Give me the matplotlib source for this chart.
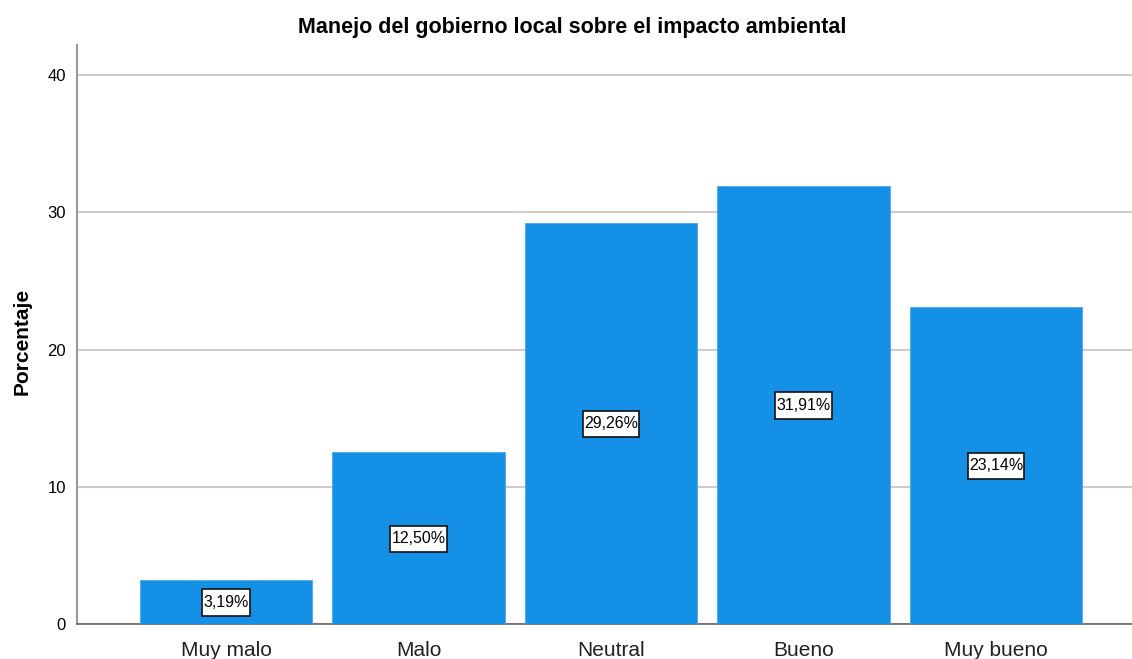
import matplotlib
matplotlib.use("Agg")
import matplotlib.pyplot as plt
from matplotlib.path import Path

categories = ["Muy malo", "Malo", "Neutral", "Bueno", "Muy bueno"]
values = [3.19, 12.50, 29.26, 31.91, 23.14]
labels = ["3,19%", "12,50%", "29,26%", "31,91%", "23,14%"]
yticks = [0, 10, 20, 30, 40]

plt.rcParams['font.family'] = ['Liberation Sans', 'DejaVu Sans']


def label_box(x0, y0, width, height, mutation_size):
    padx = 0.07 * mutation_size
    pady = 0.36 * mutation_size
    xa, ya = x0 - padx, y0 - pady * 1.1
    xb, yb = x0 + width + padx, y0 + height + pady * 0.9
    return Path([(xa, ya), (xb, ya), (xb, yb), (xa, yb), (xa, ya)], closed=True)


fig = plt.figure(figsize=(11.32, 6.59), dpi=100)
ax = fig.add_axes([77/1132, 35/659, 1 - 77/1132, (624-45)/659])

x = list(range(len(categories)))
ax.bar(x, values, width=0.896, color="#1490E6", edgecolor="#4aa8ee", linewidth=0.6, zorder=3)
for xi, v, lab in zip(x, values, labels):
    ax.text(xi, v/2, lab, ha="center", va="center", fontsize=11.5, zorder=4,
            bbox=dict(boxstyle=label_box, facecolor="white", edgecolor="#111111", linewidth=1.2))

ax.set_xlim(-0.774, 4.706)
ax.set_ylim(0, 42.2)
ax.set_yticks(yticks)
ax.set_xticks(x)
ax.set_xticklabels(categories, fontsize=15, color="#222222")
ax.tick_params(axis="y", labelsize=12, length=0, pad=8)
ax.tick_params(axis="x", length=0, pad=12)
ax.yaxis.grid(True, color="#cccccc", linewidth=1.5, zorder=0)
for s in ["top", "right"]:
    ax.spines[s].set_visible(False)
ax.spines["left"].set_color("#999999")
ax.spines["left"].set_linewidth(1.5)
ax.spines["bottom"].set_color("#666666")
ax.spines["bottom"].set_linewidth(1.2)

fig.text(22/1132, 1 - 341/659, "Porcentaje", rotation=90, ha="center", va="center",
         fontsize=15, fontweight="bold")
fig.text(572/1132, 1 - 27/659, "Manejo del gobierno local sobre el impacto ambiental",
         ha="center", va="center", fontsize=15.5, fontweight="bold")

fig.savefig("out.png", dpi=100)
